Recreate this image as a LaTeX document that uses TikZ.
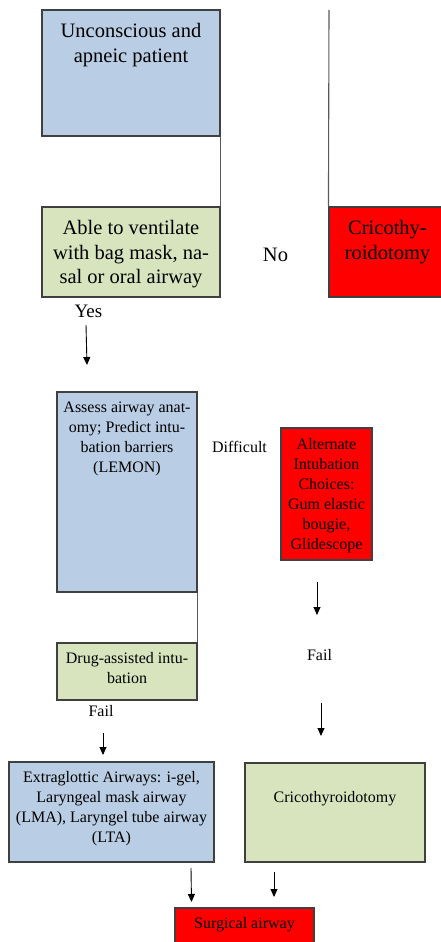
\documentclass[tikz,border=0pt]{standalone}
\usepackage{fontspec}
\setmainfont{Liberation Serif}
\usetikzlibrary{arrows.meta}
\definecolor{boxblue}{HTML}{B9CDE4}
\definecolor{boxgreen}{HTML}{D7E4BD}
\definecolor{boxred}{HTML}{FF0000}
\definecolor{edgegray}{HTML}{404040}
\definecolor{linegray}{HTML}{5A5A5A}
\begin{document}
\begin{tikzpicture}[x=1pt,y=-1pt,
  box/.style={draw=edgegray, line width=1.1pt, inner sep=0pt},
  bigtxt/.style={anchor=north, inner sep=0pt, align=center, font=\fontsize{20.5}{24.5}\selectfont},
  smalltxt/.style={anchor=north, inner sep=0pt, align=center, font=\fontsize{16}{20}\selectfont},
  lbl/.style={inner sep=0pt},
  conn/.style={draw=linegray, line width=1.1pt},
  arr/.style={-{Triangle[width=7pt,length=8pt]}, line width=0.9pt, draw=black}]
\useasboundingbox (0,0) rectangle (441,942);
\fill[white] (0,0) rectangle (441,942);

% boxes
\node[box, fill=boxblue, minimum width=178pt, minimum height=126pt] (b1) at (131,73) {};
\node[box, fill=boxgreen, minimum width=178pt, minimum height=90pt] (b2) at (131,252) {};
\node[box, fill=boxred, minimum width=117pt, minimum height=90pt] (b3) at (387.5,252) {};
\node[box, fill=boxblue, minimum width=140pt, minimum height=200pt] (b4) at (127,492) {};
\node[box, fill=boxred, minimum width=91pt, minimum height=132pt] (b5) at (326.5,494) {};
\node[box, fill=boxgreen, minimum width=140pt, minimum height=57pt] (b6) at (127,671.5) {};
\node[box, fill=boxblue, minimum width=205pt, minimum height=100pt] (b7) at (111.5,812) {};
\node[box, fill=boxgreen, minimum width=180pt, minimum height=99pt] (b8) at (335,812.5) {};
\node[box, fill=boxred, minimum width=139pt, minimum height=44pt] (b9) at (244.5,930) {};

% box texts
\node[bigtxt] (t1) at ([yshift=-14pt]b1.north) {Unconscious and\\apneic patient};
\node[bigtxt] (t2) at ([yshift=-14pt]b2.north) {Able to ventilate\\with bag mask, na-\\sal or oral airway};
\node[bigtxt] (t3) at ([yshift=-14pt]b3.north) {Cricothy-\\roidotomy};
\node[smalltxt] (t4) at ([yshift=-10pt]b4.north) {Assess airway anat-\\omy; Predict intu-\\bation barriers\\(LEMON)};
\node[smalltxt] (t5) at ([yshift=-11pt]b5.north) {Alternate\\Intubation\\Choices:\\Gum elastic\\bougie,\\Glidescope};
\node[smalltxt] (t6) at ([yshift=-10pt]b6.north) {Drug-assisted intu-\\bation};
\node[smalltxt] (t7) at ([yshift=-10pt]b7.north) {Extraglottic Airways: i-gel,\\Laryngeal mask airway\\(LMA), Laryngel tube airway\\(LTA)};
\node[smalltxt] (t8) at ([yshift=-29pt]b8.north) {Cricothyroidotomy};
\node[smalltxt] (t9) at ([yshift=-10pt]b9.north) {Surgical airway};

% labels
\node[lbl, font=\fontsize{20.5}{24.5}\selectfont] (no) at (275.5,255) {No};
\node[lbl, font=\fontsize{19}{23}\selectfont] (yes) at (88.5,311) {Yes};
\node[lbl, font=\fontsize{16}{20}\selectfont] (diff) at (239.5,447) {Difficult};
\node[lbl, font=\fontsize{16}{20}\selectfont] (failr) at (319.5,655) {Fail};
\node[lbl, font=\fontsize{16}{20}\selectfont] (faill) at (101,711) {Fail};

% plain connectors
\draw[conn] (b1.south east) -- (b2.north east);
\coordinate (top3) at (329,10);
\draw[conn] (top3) -- (b3.north west);
\draw[conn] (b4.south east) -- (b6.north east);

% arrows
\coordinate (a1s) at (86,325);   \coordinate (a1e) at (87,365);
\coordinate (a2s) at (317,582);  \coordinate (a2e) at (317,615);
\coordinate (a3s) at (321,703);  \coordinate (a3e) at (321,736);
\coordinate (a4s) at (103,733);  \coordinate (a4e) at (103,755);
\coordinate (a5s) at (191,868);  \coordinate (a5e) at (191.5,902);
\coordinate (a6s) at (274,872);  \coordinate (a6e) at (274,897);
\draw[arr] (a1s) -- (a1e);
\draw[arr] (a2s) -- (a2e);
\draw[arr] (a3s) -- (a3e);
\draw[arr] (a4s) -- (a4e);
\draw[arr] (a5s) -- (a5e);
\draw[arr] (a6s) -- (a6e);
\end{tikzpicture}
\end{document}
